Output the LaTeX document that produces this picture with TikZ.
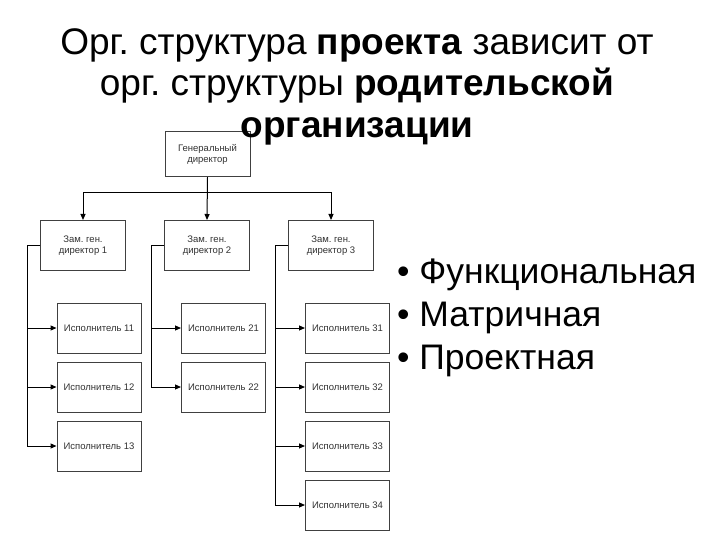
\documentclass[tikz,border=0pt]{standalone}
\usepackage{fontspec}
\setmainfont{Liberation Sans}
\usetikzlibrary{positioning, arrows.meta}
\definecolor{boxline}{RGB}{64, 64, 64}
\definecolor{boxtext}{RGB}{50, 50, 50}
\tikzset{
  % org chart box
  block/.style={
    rectangle, minimum width=85pt, minimum height=50pt,
    draw=boxline, line width=1pt, fill=white,
    font=\fontsize{9.5pt}{11.5pt}\selectfont, align=center, text=boxtext,
    inner sep=0pt
  },
  % executor box
  exec/.style={block, minimum width=84pt},
  % arrow style
  arr/.style={-{Triangle[length=6pt, width=5pt]}, line width=1pt, color=black},
}

\begin{document}
\frenchspacing
\begin{tikzpicture}[x=1pt, y=-1pt, node distance=8pt and 8pt]
  \useasboundingbox (0,0) rectangle (720,540);
  % top levels
  \node[block, minimum height=45pt] (gd) at (207.5,154.5) {Генеральный\\директор};
  \node[block] (z1) at (83,245.5) {Зам. ген.\\директор 1};
  \node[block] (z2) at (207,245.5) {Зам. ген.\\директор 2};
  \node[block] (z3) at (331,245.5) {Зам. ген.\\директор 3};
  % executors
  \node[exec] (e11) at (99,328) {Исполнитель 11};
  \node[exec, below=of e11] (e12) {Исполнитель 12};
  \node[exec, below=of e12] (e13) {Исполнитель 13};
  \node[exec] (e21) at (223.5,328) {Исполнитель 21};
  \node[exec, below=of e21] (e22) {Исполнитель 22};
  \node[exec] (e31) at (347.5,328) {Исполнитель 31};
  \node[exec, below=of e31] (e32) {Исполнитель 32};
  \node[exec, below=of e32] (e33) {Исполнитель 33};
  \node[exec, below=of e33] (e34) {Исполнитель 34};
  % connectors
  \draw[arr] (gd.south) -- ++(0,15) -| (z1.north);
  \draw[arr] (gd.south) -- (z2.north);
  \draw[arr] (gd.south) -- ++(0,15) -| (z3.north);
  \foreach \e in {e11,e12,e13} \draw[arr] (z1.west) -- ++(-13,0) |- (\e.west);
  \foreach \e in {e21,e22} \draw[arr] (z2.west) -- ++(-13,0) |- (\e.west);
  \foreach \e in {e31,e32,e33,e34} \draw[arr] (z3.west) -- ++(-13,0) |- (\e.west);
  % title (on top of the chart)
  \node[font=\fontsize{37pt}{41.5pt}\selectfont, align=center, anchor=north, inner sep=0pt] (title) at (357,28)
    {Орг. структура \textbf{проекта} зависит от\\
     орг. структуры \textbf{родительской}\\
     \textbf{организации}};
  % list
  \node[font=\fontsize{35.5pt}{43pt}\selectfont, align=left, anchor=north west, inner sep=0pt] (types) at (397,259)
    {• Функциональная\\• Матричная\\• Проектная};
\end{tikzpicture}
\end{document}
